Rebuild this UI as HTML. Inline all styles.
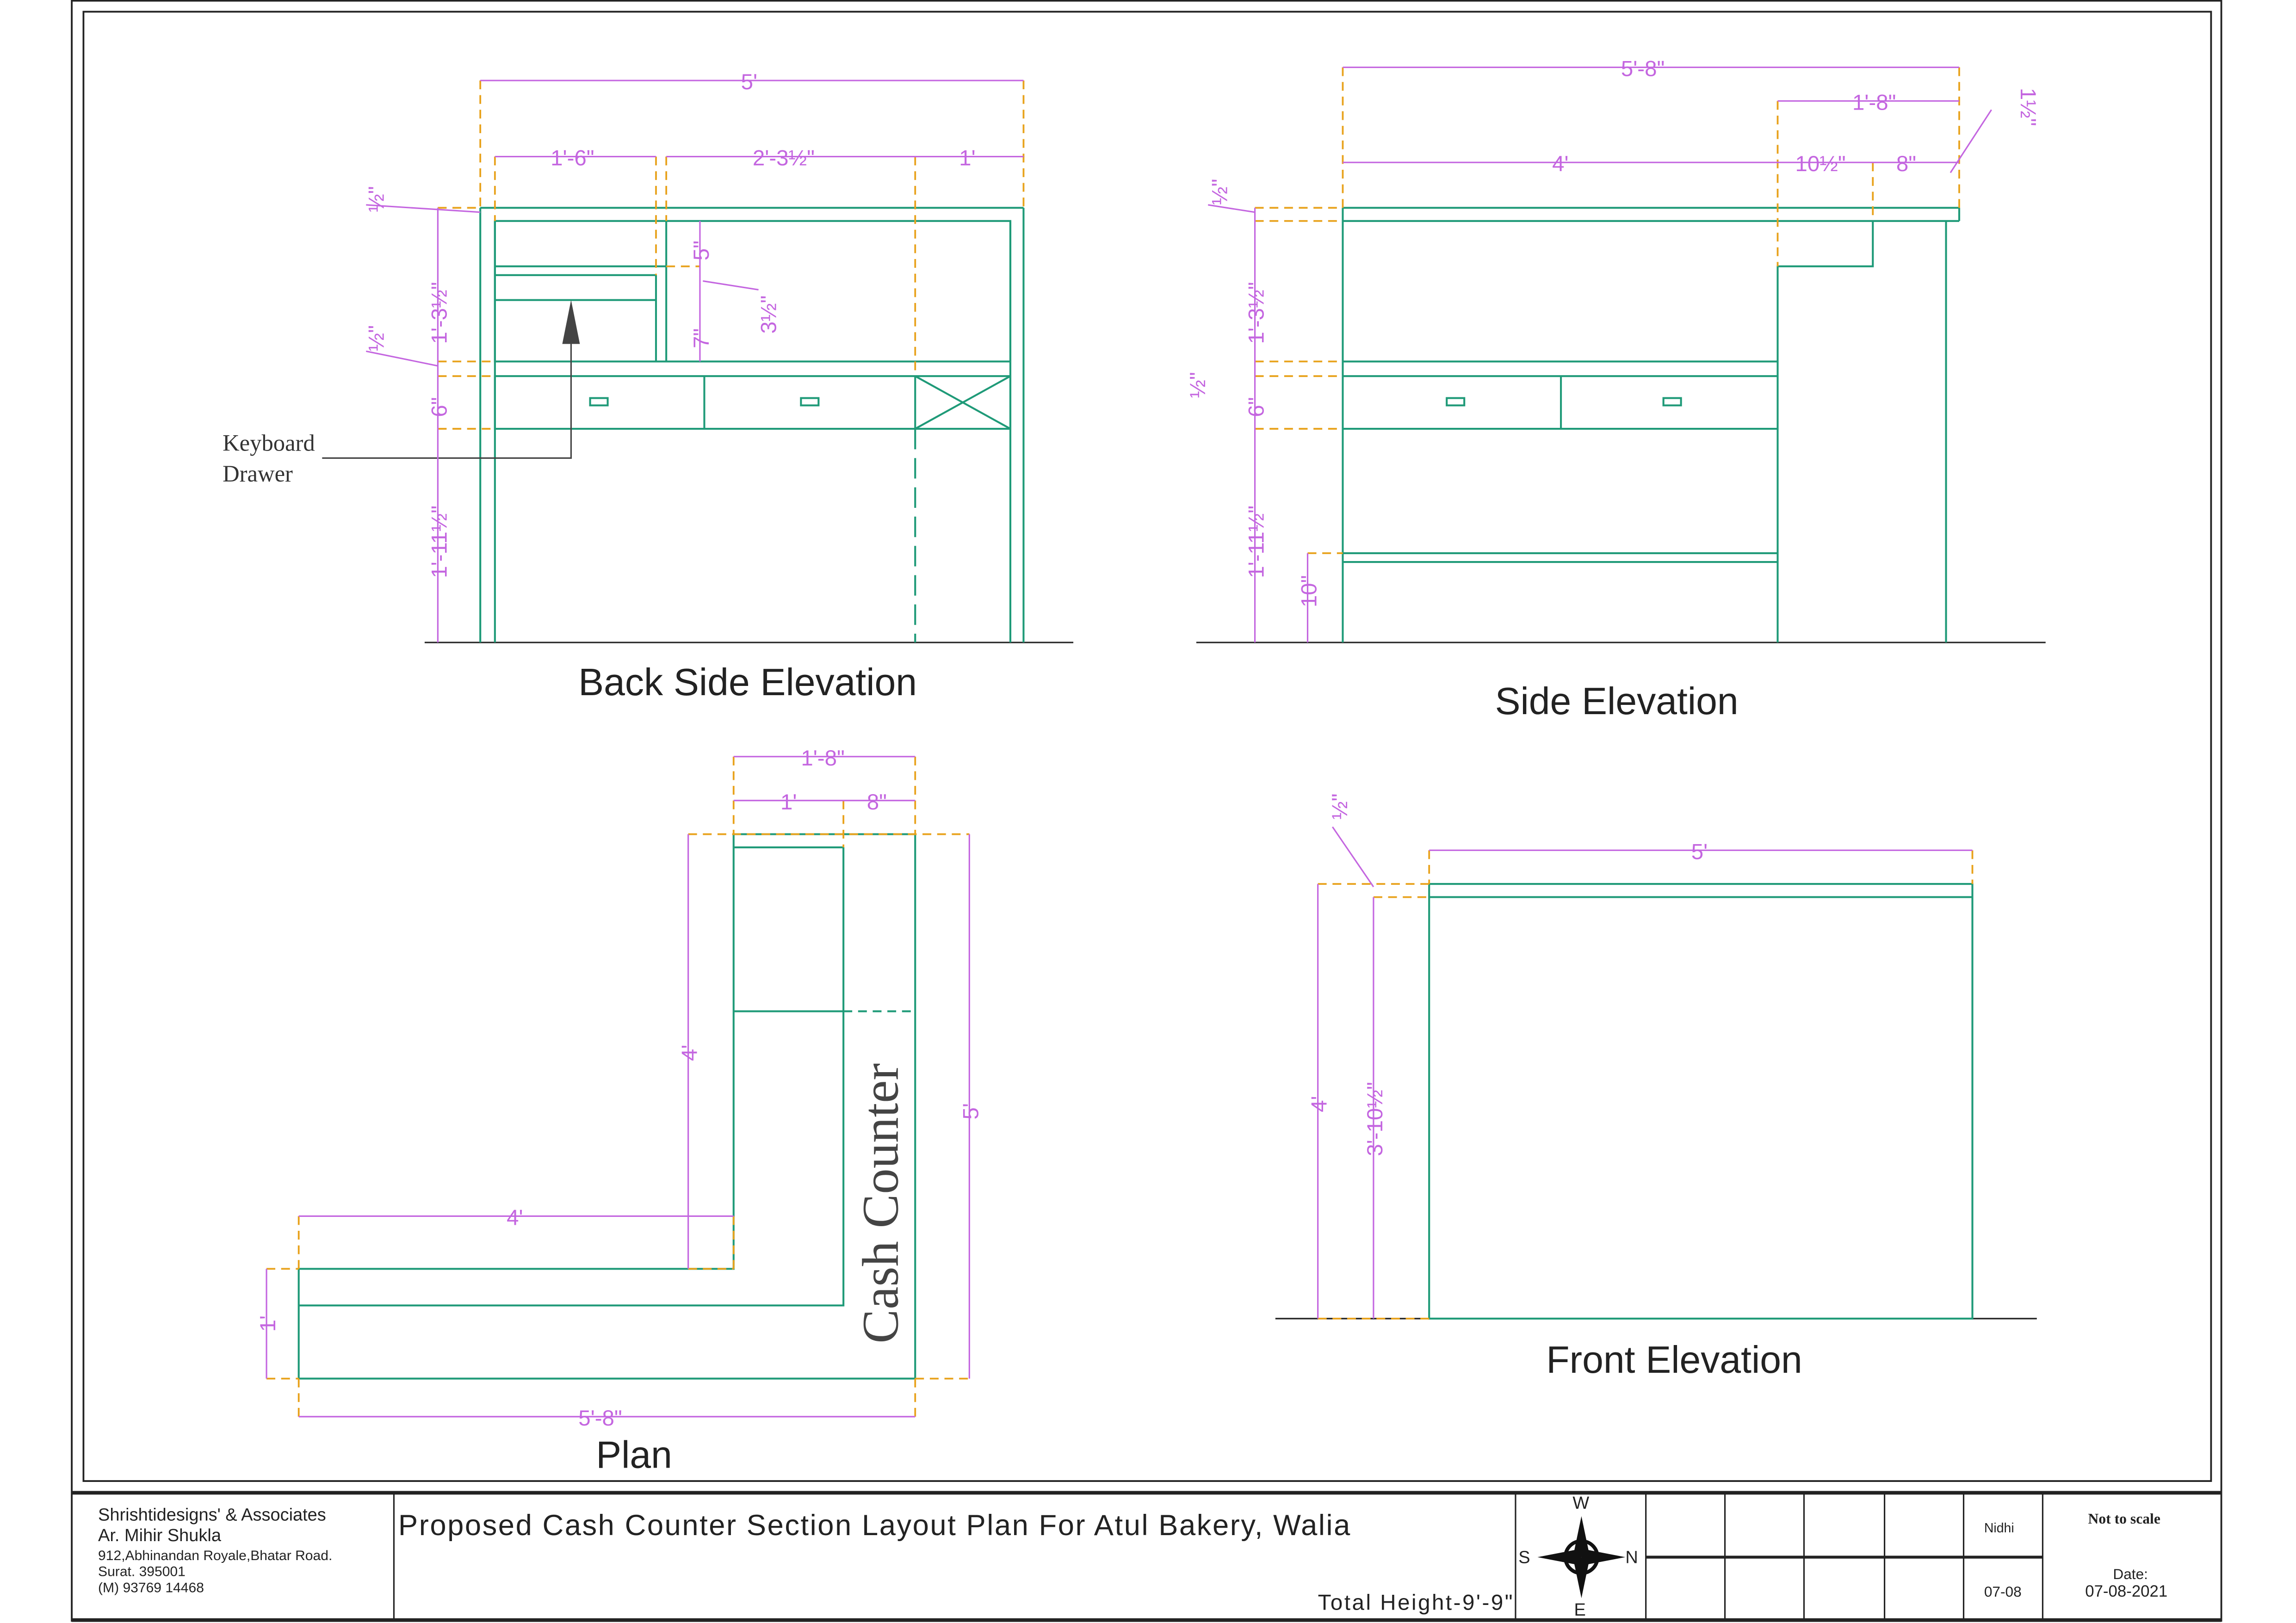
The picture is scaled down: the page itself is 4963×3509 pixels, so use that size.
<!DOCTYPE html>
<html><head><meta charset="utf-8"><style>
html,body{margin:0;padding:0;background:#fff;}
svg{display:block;}
.g{stroke:#1f9a78;stroke-width:1.3;fill:none}
.d{stroke:#c466e0;stroke-width:1;fill:none}
.o{stroke:#e8a21c;stroke-width:1.2;fill:none;stroke-dasharray:6 4}
.k{stroke:#222;fill:none}
.t{font-family:"Liberation Sans",sans-serif;fill:#c466e0;font-size:15px}
.ti{font-family:"Liberation Sans",sans-serif;fill:#222;font-size:26px}
.s{font-family:"Liberation Sans",sans-serif;fill:#222}
</style></head><body>
<svg width="4963" height="3509" viewBox="0 0 1568 1109" preserveAspectRatio="none" xmlns="http://www.w3.org/2000/svg">
<rect x="0" y="0" width="1568" height="1109" fill="#fff"/>
<rect class="k" x="49" y="0.5" width="1468" height="1107" stroke-width="1.2"/>
<rect class="k" x="57" y="8" width="1453" height="1004" stroke-width="1.2"/>
<line class="k" x1="49" y1="1020" x2="1517" y2="1020" stroke-width="2.5"/>
<line class="k" x1="49" y1="1107" x2="1517" y2="1107" stroke-width="2.5"/>
<g class="k" stroke-width="1">
<line x1="269" y1="1020" x2="269" y2="1107"/><line x1="1035" y1="1020" x2="1035" y2="1107"/>
<line x1="1124" y1="1020" x2="1124" y2="1107"/><line x1="1178" y1="1020" x2="1178" y2="1107"/>
<line x1="1232" y1="1020" x2="1232" y2="1107"/><line x1="1287" y1="1020" x2="1287" y2="1107"/>
<line x1="1341" y1="1020" x2="1341" y2="1107"/><line x1="1395" y1="1020" x2="1395" y2="1107"/>
</g>
<line class="k" x1="1124" y1="1064" x2="1395" y2="1064" stroke-width="2"/>
<text class="s" x="67" y="1039" font-size="12">Shrishtidesigns' &amp; Associates</text>
<text class="s" x="67" y="1053" font-size="12">Ar. Mihir Shukla</text>
<text class="s" x="67" y="1066" font-size="9.5">912,Abhinandan Royale,Bhatar Road.</text>
<text class="s" x="67" y="1077" font-size="9.5">Surat. 395001</text>
<text class="s" x="67" y="1088" font-size="9.5">(M) 93769 14468</text>
<text class="s" x="272" y="1049" font-size="20" textLength="650">Proposed Cash Counter Section Layout Plan For Atul Bakery, Walia</text>
<text class="s" x="900" y="1100" font-size="15" textLength="133">Total Height-9'-9"</text>
<text class="s" x="1074" y="1031" font-size="12">W</text>
<text class="s" x="1075" y="1104" font-size="12">E</text>
<text class="s" x="1037" y="1068" font-size="12">S</text>
<text class="s" x="1110" y="1068" font-size="12">N</text>
<g fill="#111">
<polygon points="1080,1036 1085,1060 1080,1064 1075,1060"/>
<polygon points="1080,1092 1085,1068 1080,1064 1075,1068"/>
<polygon points="1050,1064 1076,1059 1080,1064 1076,1069"/>
<polygon points="1110,1064 1084,1059 1080,1064 1084,1069"/>
</g>
<circle cx="1080" cy="1064" r="11" fill="none" stroke="#111" stroke-width="2.5"/>
<text class="s" x="1355" y="1047" font-size="9">Nidhi</text>
<text class="s" x="1355" y="1091" font-size="10">07-08</text>
<text x="1426" y="1041" font-family="Liberation Serif,serif" font-weight="bold" font-size="10" fill="#222">Not  to scale</text>
<text class="s" x="1443" y="1079" font-size="10">Date:</text>
<text class="s" x="1424" y="1091" font-size="11">07-08-2021</text>

<!-- BACK SIDE ELEVATION -->
<line class="k" x1="290" y1="439" x2="733" y2="439"/>
<g class="g">
<line x1="328" y1="142" x2="328" y2="439"/><line x1="338" y1="151" x2="338" y2="439"/>
<line x1="690" y1="151" x2="690" y2="439"/><line x1="699" y1="142" x2="699" y2="439"/>
<line x1="328" y1="142" x2="699" y2="142"/>
<rect x="338" y="151" width="352" height="96"/>
<line x1="338" y1="182" x2="455" y2="182"/><line x1="338" y1="188" x2="448" y2="188"/>
<line x1="448" y1="188" x2="448" y2="247"/><line x1="455" y1="151" x2="455" y2="247"/>
<line x1="338" y1="205" x2="448" y2="205"/>
<rect x="338" y="257" width="352" height="36"/>
<line x1="481" y1="257" x2="481" y2="293"/><line x1="625" y1="257" x2="625" y2="293"/>
<line x1="625" y1="257" x2="690" y2="293"/><line x1="690" y1="257" x2="625" y2="293"/>
<rect x="403" y="272" width="12" height="5"/><rect x="547" y="272" width="12" height="5"/>
<line x1="625" y1="293" x2="625" y2="439" stroke-dasharray="14 6"/>
</g>
<polyline points="220,313 390,313 390,225" fill="none" stroke="#444" stroke-width="1"/>
<polygon points="384,235 390,205 396,235" fill="#444"/>
<text x="152" y="308" font-family="Liberation Serif,serif" font-size="16" fill="#333">Keyboard</text>
<text x="152" y="329" font-family="Liberation Serif,serif" font-size="16" fill="#333">Drawer</text>
<g class="o">
<line x1="328" y1="55" x2="328" y2="142"/><line x1="699" y1="55" x2="699" y2="142"/>
<line x1="338" y1="107" x2="338" y2="151"/><line x1="448" y1="107" x2="448" y2="188"/><line x1="455" y1="107" x2="455" y2="151"/><line x1="625" y1="107" x2="625" y2="257"/>
<line x1="299" y1="247" x2="338" y2="247"/><line x1="299" y1="257" x2="338" y2="257"/><line x1="299" y1="293" x2="338" y2="293"/><line x1="299" y1="142" x2="328" y2="142"/><line x1="455" y1="182" x2="478" y2="182"/>
</g>
<g class="d">
<line x1="328" y1="55" x2="699" y2="55"/><line x1="338" y1="107" x2="448" y2="107"/><line x1="455" y1="107" x2="699" y2="107"/>
<line x1="299" y1="142" x2="299" y2="439"/><line x1="478" y1="151" x2="478" y2="247"/>
<line x1="250" y1="140" x2="328" y2="145"/><line x1="250" y1="240" x2="299" y2="250"/><line x1="480" y1="192" x2="518" y2="198"/>
</g>
<g class="t">
<text x="506" y="61">5'</text><text x="376" y="113">1'-6"</text><text x="514" y="113">2'-3½"</text><text x="655" y="113">1'</text>
<text transform="translate(305,235) rotate(-90)">1'-3½"</text>
<text transform="translate(305,285) rotate(-90)">6"</text>
<text transform="translate(305,395) rotate(-90)">1'-11½"</text>
<text transform="translate(262,145) rotate(-90)">½"</text>
<text transform="translate(262,240) rotate(-90)">½"</text>
<text transform="translate(484,178) rotate(-90)">5"</text>
<text transform="translate(484,238) rotate(-90)">7"</text>
<text transform="translate(530,228) rotate(-90)">3½"</text>
</g>
<text class="ti" x="395" y="475">Back Side Elevation</text>

<!-- SIDE ELEVATION -->
<line class="k" x1="817" y1="439" x2="1397" y2="439"/>
<g class="g">
<line x1="917" y1="142" x2="917" y2="439"/>
<line x1="917" y1="142" x2="1338" y2="142"/><line x1="917" y1="151" x2="1338" y2="151"/>
<line x1="1338" y1="142" x2="1338" y2="151"/><line x1="1329" y1="151" x2="1329" y2="439"/>
<polyline points="1279,151 1279,182 1214,182 1214,439"/>
<line x1="917" y1="247" x2="1214" y2="247"/><line x1="917" y1="257" x2="1214" y2="257"/><line x1="917" y1="293" x2="1214" y2="293"/>
<line x1="1066" y1="257" x2="1066" y2="293"/>
<rect x="988" y="272" width="12" height="5"/><rect x="1136" y="272" width="12" height="5"/>
<line x1="917" y1="378" x2="1214" y2="378"/><line x1="917" y1="384" x2="1214" y2="384"/>
</g>
<g class="o">
<line x1="917" y1="46" x2="917" y2="142"/><line x1="1338" y1="46" x2="1338" y2="142"/><line x1="1214" y1="69" x2="1214" y2="182"/><line x1="1279" y1="111" x2="1279" y2="151"/>
<line x1="857" y1="142" x2="917" y2="142"/><line x1="857" y1="151" x2="917" y2="151"/><line x1="857" y1="247" x2="917" y2="247"/><line x1="857" y1="257" x2="917" y2="257"/><line x1="857" y1="293" x2="917" y2="293"/><line x1="893" y1="378" x2="917" y2="378"/>
</g>
<g class="d">
<line x1="917" y1="46" x2="1338" y2="46"/><line x1="1214" y1="69" x2="1338" y2="69"/><line x1="917" y1="111" x2="1338" y2="111"/>
<line x1="857" y1="142" x2="857" y2="439"/><line x1="893" y1="378" x2="893" y2="439"/>
<line x1="1332" y1="118" x2="1360" y2="75"/><line x1="825" y1="140" x2="857" y2="145"/>
</g>
<g class="t">
<text x="1107" y="52">5'-8"</text><text x="1265" y="75">1'-8"</text><text x="1060" y="117">4'</text><text x="1226" y="117">10½"</text><text x="1295" y="117">8"</text>
<text transform="translate(1380,60) rotate(90)">1½"</text>
<text transform="translate(863,235) rotate(-90)">1'-3½"</text>
<text transform="translate(863,285) rotate(-90)">6"</text>
<text transform="translate(863,395) rotate(-90)">1'-11½"</text>
<text transform="translate(899,415) rotate(-90)">10"</text>
<text transform="translate(838,140) rotate(-90)">½"</text>
<text transform="translate(823,272) rotate(-90)">½"</text>
</g>
<text class="ti" x="1021" y="488">Side Elevation</text>

<!-- PLAN -->
<g class="g">
<polygon points="501,570 625,570 625,942 204,942 204,867 501,867"/>
<polyline points="576,579 576,892 204,892"/>
<line x1="501" y1="579" x2="576" y2="579"/>
<line x1="501" y1="691" x2="576" y2="691"/>
<line x1="576" y1="691" x2="625" y2="691" stroke-dasharray="6 4"/>
</g>
<text transform="translate(613,918) rotate(-90)" font-family="Liberation Serif,serif" font-size="35" fill="#444">Cash Counter</text>
<g class="o">
<line x1="501" y1="517" x2="501" y2="570"/><line x1="625" y1="517" x2="625" y2="570"/><line x1="576" y1="547" x2="576" y2="579"/>
<line x1="470" y1="570" x2="662" y2="570"/><line x1="470" y1="867" x2="501" y2="867"/><line x1="625" y1="942" x2="662" y2="942"/>
<line x1="204" y1="831" x2="204" y2="867"/><line x1="501" y1="831" x2="501" y2="867"/>
<line x1="204" y1="942" x2="204" y2="968"/><line x1="625" y1="942" x2="625" y2="968"/>
<line x1="182" y1="867" x2="204" y2="867"/><line x1="182" y1="942" x2="204" y2="942"/>
</g>
<g class="d">
<line x1="501" y1="517" x2="625" y2="517"/><line x1="501" y1="547" x2="625" y2="547"/>
<line x1="470" y1="570" x2="470" y2="867"/><line x1="662" y1="570" x2="662" y2="942"/>
<line x1="204" y1="831" x2="501" y2="831"/><line x1="182" y1="867" x2="182" y2="942"/><line x1="204" y1="968" x2="625" y2="968"/>
</g>
<g class="t">
<text x="547" y="523">1'-8"</text><text x="533" y="553">1'</text><text x="592" y="553">8"</text>
<text x="346" y="837">4'</text><text x="395" y="974">5'-8"</text>
<text transform="translate(476,725) rotate(-90)">4'</text>
<text transform="translate(668,765) rotate(-90)">5'</text>
<text transform="translate(188,910) rotate(-90)">1'</text>
</g>
<text class="ti" x="407" y="1003">Plan</text>

<!-- FRONT ELEVATION -->
<line class="k" x1="871" y1="901" x2="1391" y2="901"/>
<g class="g">
<rect x="976" y="604" width="371" height="297"/>
<line x1="976" y1="613" x2="1347" y2="613"/>
</g>
<g class="o">
<line x1="976" y1="581" x2="976" y2="604"/><line x1="1347" y1="581" x2="1347" y2="604"/>
<line x1="900" y1="604" x2="976" y2="604"/><line x1="938" y1="613" x2="976" y2="613"/><line x1="900" y1="901" x2="976" y2="901"/>
</g>
<g class="d">
<line x1="976" y1="581" x2="1347" y2="581"/>
<line x1="900" y1="604" x2="900" y2="901"/><line x1="938" y1="613" x2="938" y2="901"/>
<line x1="910" y1="565" x2="938" y2="606"/>
</g>
<g class="t">
<text x="1155" y="587">5'</text>
<text transform="translate(906,760) rotate(-90)">4'</text>
<text transform="translate(944,790) rotate(-90)">3'-10½"</text>
<text transform="translate(920,560) rotate(-90)">½"</text>
</g>
<text class="ti" x="1056" y="938">Front Elevation</text>
</svg>
</body></html>
